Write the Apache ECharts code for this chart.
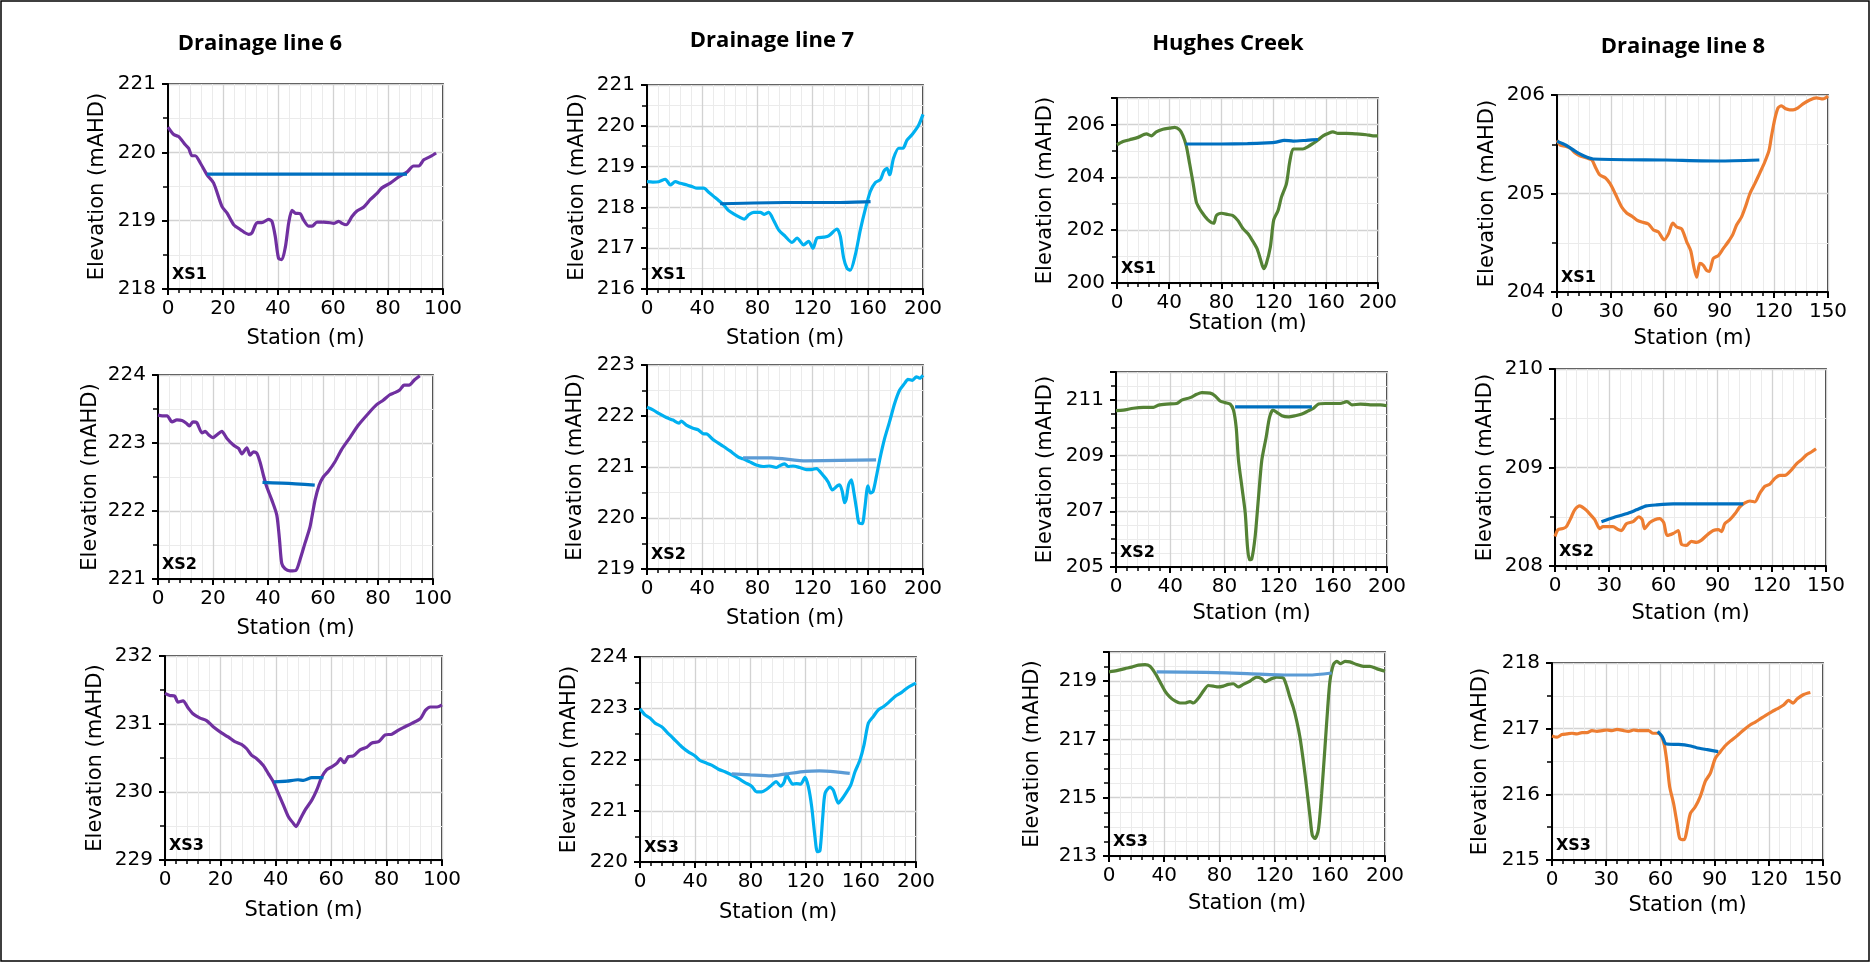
<!DOCTYPE html>
<html><head><meta charset="utf-8">
<script src="https://cdn.jsdelivr.net/npm/echarts@6/dist/echarts.min.js"></script>
<style>html,body{margin:0;padding:0;background:#fff}#c{width:1875px;height:965px}</style>
</head><body><div id="c"></div>
<script>
// ---------- titles / labels ----------
const columnTitles = ['Drainage line 6', 'Drainage line 7', 'Hughes Creek', 'Drainage line 8'];
const sectionLabels = ['XS1', 'XS2', 'XS3'];
const xAxisTitle = 'Station (m)';
const yAxisTitle = 'Elevation (mAHD)';

// ---------- ground profiles [station, elevation] ----------
const dl6_xs1_ground = [[0,220.37],[2.1,220.26],[3.9,220.23],[6.3,220.11],[7.5,220.06],[8.7,219.95],[9.9,219.95],[11.8,219.84],[14.2,219.67],[16.6,219.55],[19.6,219.21],[21.5,219.11],[23.9,218.94],[26.3,218.87],[29.3,218.80],[30.5,218.82],[32.4,218.97],[34.1,218.97],[36.6,219.02],[37.8,218.99],[39.0,218.77],[40.2,218.45],[41.4,218.43],[42.7,218.62],[43.9,218.97],[45.1,219.15],[46.3,219.11],[48.1,219.10],[49.3,219.01],[51.1,218.92],[52.4,218.92],[54.2,218.98],[56.6,218.98],[59.0,218.97],[60.2,218.96],[62.1,218.99],[63.3,218.96],[64.8,218.94],[66.9,219.06],[68.7,219.14],[71.2,219.20],[73.6,219.31],[76.0,219.40],[77.8,219.48],[80.8,219.55],[83.9,219.64],[86.9,219.71],[89.3,219.80],[91.2,219.80],[93.0,219.89],[95.5,219.94],[97.5,219.99]];
const dl6_xs1_water = [[14.2,219.68],[50,219.68],[86.9,219.68]];

const dl7_xs1_ground = [[0,218.63],[4.3,218.62],[8.5,218.63],[13.3,218.69],[16.9,218.55],[20.5,218.63],[24.2,218.59],[29.0,218.55],[32.6,218.51],[36.2,218.47],[41.1,218.47],[44.7,218.37],[48.3,218.27],[51.9,218.17],[55.6,218.06],[59.2,217.92],[62.8,217.84],[67.1,217.76],[70.5,217.71],[73.7,217.82],[77.3,217.88],[82.1,217.88],[85.0,217.83],[88.2,217.88],[91.8,217.68],[95.4,217.45],[100.2,217.29],[105.1,217.14],[108.7,217.25],[113.5,217.08],[117.1,217.17],[120.3,217.00],[123.2,217.25],[128.0,217.27],[131.6,217.30],[137.7,217.47],[140.1,217.29],[142.5,216.76],[144.9,216.51],[147.3,216.46],[151.0,216.84],[154.6,217.45],[158.2,217.96],[161.8,218.39],[165.5,218.61],[169.1,218.68],[171.5,218.88],[173.9,218.96],[175.8,218.80],[178.7,219.21],[182.4,219.45],[185.5,219.45],[188.4,219.65],[192.0,219.78],[196.9,220.02],[200,220.28]];
const dl7_xs1_water = [[53,218.09],[100,218.12],[140,218.12],[162,218.14]];

const hc_xs1_ground = [[0,205.23],[4.6,205.35],[9.7,205.42],[16.1,205.51],[22.5,205.64],[26.3,205.57],[30.1,205.72],[35.2,205.82],[40.4,205.86],[44.2,205.89],[48.0,205.79],[50.6,205.57],[53.1,205.19],[55.7,204.50],[58.2,203.81],[60.8,203.06],[63.3,202.81],[65.9,202.62],[69.7,202.39],[74.1,202.26],[76.1,202.55],[79.9,202.64],[85.0,202.59],[88.8,202.55],[92.7,202.36],[96.6,202.05],[100.4,201.86],[103.7,201.61],[107.3,201.30],[109.8,200.92],[112.4,200.54],[114.4,200.73],[117.5,201.36],[120.1,202.39],[123.4,202.74],[126.0,203.25],[129.8,203.75],[132.3,204.57],[134.9,205.07],[137.5,205.07],[142.5,205.07],[146.4,205.16],[150.2,205.28],[154.0,205.41],[157.9,205.57],[161.7,205.66],[165.5,205.72],[169.3,205.66],[175.7,205.66],[183.4,205.64],[191.1,205.61],[196.2,205.57],[200,205.57]];
const hc_xs1_water = [[52.6,205.26],[80,205.26],[100,205.27],[115,205.30],[122,205.33],[128,205.40],[135,205.37],[145,205.40],[154,205.43]];

const dl8_xs1_ground = [[0,205.54],[1.8,205.49],[4.6,205.48],[7.4,205.46],[10.1,205.41],[12.9,205.38],[16.6,205.36],[19.3,205.34],[21.2,205.27],[23.6,205.19],[26.7,205.16],[29.4,205.10],[32.2,205.00],[35.9,204.86],[38.7,204.80],[41.4,204.77],[44.2,204.73],[46.9,204.71],[50.6,204.69],[53.4,204.63],[56.1,204.61],[59.3,204.53],[61.7,204.59],[64.1,204.70],[66.3,204.66],[69.0,204.64],[71.8,204.51],[74.0,204.42],[75.8,204.25],[77.3,204.15],[79.1,204.29],[81.0,204.27],[82.8,204.22],[84.3,204.21],[86.5,204.34],[89.3,204.37],[92.0,204.44],[94.8,204.51],[97.2,204.58],[99.4,204.68],[102.1,204.76],[104.0,204.85],[106.8,205.00],[109.5,205.10],[112.3,205.21],[115.0,205.32],[117.4,205.44],[118.7,205.58],[120.6,205.76],[122.4,205.87],[124.2,205.89],[126.6,205.86],[128.8,205.85],[130.7,205.85],[133.4,205.87],[136.2,205.91],[139.9,205.95],[143.6,205.97],[147.2,205.96],[150,205.99]];
const dl8_xs1_water = [[0,205.53],[5,205.49],[10,205.43],[15,205.38],[20,205.35],[60,205.34],[90,205.33],[112,205.34]];

const dl6_xs2_ground = [[0,223.41],[1.5,223.40],[3.3,223.40],[5.1,223.31],[6.9,223.34],[8.7,223.33],[10.3,223.29],[11.4,223.25],[12.7,223.31],[14.1,223.30],[16.0,223.15],[17.2,223.17],[18.4,223.12],[20.0,223.08],[21.4,223.12],[23.2,223.17],[25.0,223.07],[27.4,222.97],[29.3,222.92],[30.5,222.84],[32.3,222.93],[33.5,222.82],[34.7,222.87],[35.9,222.85],[37.1,222.72],[38.3,222.53],[39.5,222.36],[41.4,222.16],[43.2,221.94],[44.2,221.57],[45.0,221.23],[46.2,221.15],[48.0,221.12],[50.2,221.13],[51.6,221.28],[53.4,221.52],[55.3,221.77],[57.1,222.16],[58.6,222.38],[60.1,222.50],[61.9,222.58],[64.3,222.72],[66.7,222.90],[69.8,223.08],[72.8,223.26],[76.4,223.43],[79.4,223.56],[81.9,223.63],[84.3,223.71],[86.1,223.74],[87.9,223.78],[89.5,223.85],[91.3,223.85],[93.3,223.93],[95.2,223.99]];
const dl6_xs2_water = [[38,222.42],[45,222.41],[50,222.40],[57,222.38]];

const dl7_xs2_ground = [[0,222.17],[4.3,222.12],[9.2,222.04],[14.0,221.97],[18.8,221.92],[23.2,221.86],[24.9,221.90],[28.5,221.82],[33.3,221.76],[37.0,221.73],[41.1,221.65],[43.0,221.65],[47.8,221.54],[53.9,221.43],[59.9,221.32],[65.9,221.20],[69.6,221.16],[74.4,221.10],[79.2,221.04],[84.1,221.01],[88.9,221.02],[93.7,220.99],[97.3,221.04],[99.8,221.06],[102.2,221.01],[105.8,221.02],[110.6,220.99],[115.5,220.95],[119.1,220.95],[122.7,220.97],[127.5,220.84],[131.2,220.71],[134.3,220.55],[137.9,220.63],[139.6,220.65],[141.5,220.52],[143.2,220.30],[144.4,220.37],[146.1,220.65],[148.1,220.75],[149.8,220.52],[151.7,220.20],[153.6,219.90],[156.0,219.89],[157.7,220.16],[160.1,220.63],[161.8,220.49],[163.8,220.52],[166.2,220.81],[168.6,221.14],[172.2,221.56],[175.8,221.89],[179.5,222.25],[183.1,222.51],[186.7,222.64],[189.1,222.72],[192.3,222.70],[195.2,222.77],[197.6,222.74],[200,222.80]];
const dl7_xs2_water = [[69.6,221.18],[90,221.18],[115,221.12],[140,221.13],[166,221.14]];

const hc_xs2_ground = [[0,210.61],[5.4,210.63],[12.8,210.70],[20.2,210.73],[27.6,210.73],[31.3,210.81],[37.4,210.85],[44.8,210.87],[48.5,210.99],[54.7,211.08],[59.6,211.20],[63.3,211.26],[69.5,211.24],[73.2,211.14],[76.8,210.96],[80.5,210.90],[84.2,210.85],[86.7,210.63],[88.7,210.01],[90.4,208.83],[92.9,207.88],[95.4,206.93],[97.0,205.74],[98.5,205.26],[100.2,205.29],[102.7,206.10],[105.2,207.52],[107.6,208.83],[110.8,209.66],[113.3,210.37],[115.8,210.63],[118.7,210.55],[122.4,210.43],[127.3,210.39],[132.3,210.43],[137.2,210.49],[142.1,210.61],[145.8,210.70],[149.5,210.85],[154.4,210.87],[159.4,210.87],[165.5,210.87],[170.4,210.94],[174.1,210.82],[180.3,210.85],[187.7,210.82],[195.1,210.82],[200,210.79]];
const hc_xs2_water = [[87.9,210.75],[115,210.75],[144.6,210.75]];

const dl8_xs2_ground = [[0,208.30],[1.7,208.37],[4.4,208.38],[6.3,208.40],[9.1,208.50],[10.9,208.57],[13.7,208.61],[16.4,208.58],[19.2,208.53],[22.0,208.47],[24.8,208.38],[26.6,208.40],[29.4,208.40],[32.1,208.40],[34.9,208.37],[36.8,208.36],[39.5,208.43],[43.2,208.45],[46.5,208.50],[48.3,208.47],[49.6,208.38],[52.4,208.44],[55.2,208.47],[58.0,208.48],[60.2,208.44],[62.1,208.31],[65.4,208.33],[68.2,208.36],[70.0,208.22],[72.8,208.21],[75.4,208.25],[78.3,208.24],[80.9,208.26],[83.9,208.31],[87.6,208.36],[90.3,208.37],[92.2,208.35],[94.0,208.43],[96.8,208.47],[99.6,208.53],[102.3,208.60],[105.1,208.64],[107.9,208.66],[110.6,208.65],[113.4,208.74],[116.2,208.81],[118.9,208.83],[121.7,208.89],[124.5,208.92],[127.3,208.92],[130.1,208.96],[133.8,209.04],[136.5,209.08],[139.3,209.13],[142.1,209.16],[144.5,209.19]];
const dl8_xs2_water = [[25.7,208.45],[32.1,208.49],[39.5,208.53],[45.1,208.57],[50.6,208.61],[56.2,208.62],[65.4,208.63],[76.5,208.63],[87.6,208.63],[95.0,208.63],[104.2,208.63]];

const dl6_xs3_ground = [[0,231.45],[1.7,231.42],[3.5,231.41],[4.7,231.32],[6.5,231.34],[8.3,231.24],[10.1,231.15],[12.5,231.09],[15.0,231.05],[17.4,230.96],[20.4,230.87],[22.8,230.81],[25.2,230.74],[27.6,230.70],[29.4,230.64],[31.3,230.54],[33.1,230.49],[35.5,230.39],[37.3,230.27],[39.1,230.15],[40.9,229.98],[42.7,229.81],[44.5,229.64],[46.3,229.54],[47.3,229.49],[48.7,229.59],[50.5,229.73],[53.0,229.88],[54.8,230.03],[56.6,230.22],[58.4,230.33],[60.2,230.37],[62.0,230.42],[63.4,230.49],[64.7,230.43],[66.2,230.52],[68.0,230.53],[70.4,230.62],[72.9,230.66],[74.7,230.72],[77.1,230.74],[79.5,230.84],[81.9,230.85],[84.3,230.91],[86.7,230.96],[89.1,231.01],[92.2,231.08],[94.0,231.20],[95.8,231.25],[98.2,231.25],[100,231.28]];
const dl6_xs3_water = [[39.3,230.15],[44,230.16],[48,230.18],[50,230.17],[53,230.21],[57.2,230.21]];

const dl7_xs3_ground = [[0,222.99],[3.6,222.87],[7.2,222.81],[10.9,222.71],[15.7,222.64],[19.3,222.54],[24.2,222.41],[30.2,222.25],[35.0,222.15],[39.9,222.07],[43.5,221.98],[47.1,221.94],[51.9,221.89],[56.8,221.81],[61.6,221.76],[66.4,221.70],[71.3,221.63],[76.1,221.55],[80.9,221.48],[84.5,221.37],[88.2,221.37],[91.8,221.42],[95.4,221.50],[98.6,221.57],[101.9,221.48],[104.3,221.55],[106.3,221.70],[108.2,221.61],[110.6,221.52],[113.5,221.53],[116.4,221.52],[119.6,221.65],[122.0,221.47],[124.4,221.08],[126.8,220.49],[128.5,220.20],[130.4,220.22],[132.4,220.87],[134.1,221.34],[137.7,221.46],[140.1,221.40],[143.7,221.15],[146.1,221.22],[149.8,221.37],[152.7,221.50],[155.8,221.76],[159.4,221.99],[162.3,222.28],[165.5,222.71],[169.1,222.84],[172.7,222.97],[176.3,223.03],[180.0,223.11],[184.8,223.23],[189.6,223.31],[194.4,223.41],[200,223.49]];
const dl7_xs3_water = [[66.4,221.72],[80,221.70],[95,221.68],[106,221.72],[120,221.77],[130,221.78],[142,221.76],[152,221.73]];

const hc_xs3_ground = [[0,219.32],[5.6,219.36],[11.6,219.43],[16.4,219.48],[21.3,219.55],[26.1,219.57],[29.7,219.51],[33.3,219.28],[36.9,218.98],[40.6,218.66],[44.2,218.45],[47.8,218.32],[51.4,218.25],[55.1,218.25],[58.7,218.30],[61.1,218.25],[64.7,218.41],[68.4,218.66],[72.0,218.85],[75.6,218.83],[79.2,218.80],[82.9,218.83],[86.5,218.89],[90.1,218.91],[93.7,218.80],[97.3,218.89],[102.2,219.00],[107.0,219.14],[110.6,219.09],[113.0,218.98],[116.7,219.06],[121.5,219.14],[126.3,219.11],[128.7,218.83],[131.2,218.43],[133.6,218.09],[136.0,217.64],[138.4,217.07],[140.8,216.27],[143.2,215.36],[145.7,214.34],[147.3,213.72],[149.3,213.60],[151.7,213.89],[154.1,215.14],[156.5,216.73],[158.5,218.09],[160.1,219.00],[162.6,219.57],[165.0,219.68],[167.9,219.60],[171.0,219.68],[174.6,219.66],[179.5,219.57],[184.3,219.51],[189.1,219.51],[193.9,219.43],[200,219.34]];
const hc_xs3_water = [[34.5,219.32],[70,219.30],[100,219.26],[130,219.21],[145,219.21],[161.4,219.28]];

const dl8_xs3_ground = [[0,216.89],[2.8,216.87],[5.5,216.91],[8.3,216.92],[11.1,216.93],[13.8,216.92],[16.6,216.94],[19.4,216.94],[22.1,216.97],[24.9,216.96],[27.7,216.97],[30.4,216.98],[33.2,216.97],[36.0,216.99],[39.7,216.97],[42.4,216.96],[45.2,216.98],[48.0,216.97],[50.7,216.97],[53.5,216.97],[55.9,216.93],[58.5,216.93],[60.5,216.89],[62.2,216.75],[63.7,216.47],[65.1,216.12],[67.3,215.86],[69.2,215.56],[70.7,215.33],[73.2,215.31],[74.7,215.46],[76.6,215.71],[79.3,215.81],[82.1,215.97],[84.9,216.20],[87.6,216.32],[90.4,216.55],[93.2,216.65],[95.9,216.74],[98.7,216.81],[102.4,216.89],[106.1,216.98],[109.8,217.06],[112.5,217.10],[115.3,217.15],[118.1,217.20],[121.8,217.26],[124.5,217.30],[128.2,217.36],[131.0,217.43],[133.4,217.39],[135.6,217.45],[139.3,217.52],[143.0,217.55]];
const dl8_xs3_water = [[58.5,216.96],[61,216.88],[63,216.77],[70,216.76],[76,216.74],[80,216.71],[86,216.68],[92,216.65]];

// ---------- axis ranges ----------
const xRange100 = [0, 100, 20];
const xRange200 = [0, 200, 40];
const xRange150 = [0, 150, 30];

// ---------- panel layout / styling ----------
const C_PURPLE = '#7030A0', C_CYAN = '#00B0F0', C_GREEN = '#548235', C_ORANGE = '#ED7D31';
const W_DARK = '#0070C0', W_LIGHT = '#5B9BD5';

const panels = [
  {g:[168,84,275,205],  x:xRange100, y:[218,221,1], ym:2, ground:dl6_xs1_ground, water:dl6_xs1_water, gc:C_PURPLE, wc:W_DARK, xs:0, xg:39, yg:60},
  {g:[647,85,276,204],  x:xRange200, y:[216,221,1], ym:2, ground:dl7_xs1_ground, water:dl7_xs1_water, gc:C_CYAN,   wc:W_DARK, xs:0, xg:39, yg:59},
  {g:[1117,98,261,185], x:xRange200, y:[200,207,2], ym:2, ground:hc_xs1_ground,  water:hc_xs1_water,  gc:C_GREEN,  wc:W_DARK, xs:0, xg:30, yg:61, hideMax:true},
  {g:[1557,95,271,197], x:xRange150, y:[204,206,1], ym:2, ground:dl8_xs1_ground, water:dl8_xs1_water, gc:C_ORANGE, wc:W_DARK, xs:0, xg:36, yg:59},
  {g:[158,375,275,204], x:xRange100, y:[221,224,1], ym:2, ground:dl6_xs2_ground, water:dl6_xs2_water, gc:C_PURPLE, wc:W_DARK, xs:1, xg:39, yg:57},
  {g:[647,365,276,204], x:xRange200, y:[219,223,1], ym:2, ground:dl7_xs2_ground, water:dl7_xs2_water, gc:C_CYAN,   wc:W_LIGHT, xs:1, xg:39, yg:61},
  {g:[1116,372,271,195],x:xRange200, y:[205,212,2], ym:4, ground:hc_xs2_ground,  water:hc_xs2_water,  gc:C_GREEN,  wc:W_DARK, xs:1, xg:36, yg:60, hideMax:true},
  {g:[1555,369,271,197],x:xRange150, y:[208,210,1], ym:2, ground:dl8_xs2_ground, water:dl8_xs2_water, gc:C_ORANGE, wc:W_DARK, xs:1, xg:37, yg:59},
  {g:[165,656,277,204], x:xRange100, y:[229,232,1], ym:2, ground:dl6_xs3_ground, water:dl6_xs3_water, gc:C_PURPLE, wc:W_DARK, xs:2, xg:40, yg:59},
  {g:[640,657,276,205], x:xRange200, y:[220,224,1], ym:2, ground:dl7_xs3_ground, water:dl7_xs3_water, gc:C_CYAN,   wc:W_LIGHT, xs:2, xg:40, yg:60},
  {g:[1109,652,276,204],x:xRange200, y:[213,220,2], ym:4, ground:hc_xs3_ground,  water:hc_xs3_water,  gc:C_GREEN,  wc:W_LIGHT, xs:2, xg:37, yg:66, hideMax:true},
  {g:[1552,663,271,197],x:xRange150, y:[215,218,1], ym:2, ground:dl8_xs3_ground, water:dl8_xs3_water, gc:C_ORANGE, wc:W_DARK, xs:2, xg:35, yg:61}
];
const titlePos = [[260,44],[772,41],[1228,44],[1683,47]];

const FONT = 'DejaVu Sans';
const grid = [], xAxis = [], yAxis = [], series = [], graphic = [];

panels.forEach((p, i) => {
  const [l, t, w, h] = p.g;
  grid.push({left:l, top:t, width:w, height:h, show:true, borderColor:'#000', borderWidth:1.5, backgroundColor:'transparent'});
  xAxis.push({
    gridIndex:i, type:'value', min:p.x[0], max:p.x[1], interval:p.x[2],
    name:xAxisTitle, nameLocation:'middle', nameGap:p.xg, nameMoveOverlap:false,
    nameTextStyle:{fontFamily:FONT, fontSize:21, color:'#000'},
    axisLine:{show:true, onZero:false, lineStyle:{color:'#000', width:2}},
    axisTick:{show:true, length:6, lineStyle:{color:'#000', width:2}},
    minorTick:{show:true, splitNumber:5, length:4, lineStyle:{color:'#000', width:1.5}},
    axisLabel:{fontFamily:FONT, fontSize:20, color:'#000', margin:10},
    splitLine:{show:true, lineStyle:{color:'#d2d2d2', width:1.3}},
    minorSplitLine:{show:true, lineStyle:{color:'#ebebeb', width:1}}
  });
  yAxis.push({
    gridIndex:i, type:'value', min:p.y[0], max:p.y[1], interval:p.y[2],
    name:yAxisTitle, nameLocation:'middle', nameGap:p.yg, nameMoveOverlap:false,
    nameTextStyle:{fontFamily:FONT, fontSize:21, color:'#000'},
    axisLine:{show:true, onZero:false, lineStyle:{color:'#000', width:2}},
    axisTick:{show:true, length:6, lineStyle:{color:'#000', width:2}},
    minorTick:{show:true, splitNumber:p.ym, length:5, lineStyle:{color:'#000', width:1.5}},
    axisLabel:{fontFamily:FONT, fontSize:20, color:'#000', margin:12, showMaxLabel: p.hideMax ? false : true},
    splitLine:{show:true, lineStyle:{color:'#d2d2d2', width:1.3}},
    minorSplitLine:{show:true, lineStyle:{color:'#ebebeb', width:1}}
  });
  series.push({
    type:'line', xAxisIndex:i, yAxisIndex:i, data:p.ground, showSymbol:false, symbol:'none',
    smooth:0.25, lineStyle:{color:p.gc, width:3.2}, z:3, animation:false, clip:true
  });
  series.push({
    type:'line', xAxisIndex:i, yAxisIndex:i, data:p.water, showSymbol:false, symbol:'none',
    smooth:0.2, lineStyle:{color:p.wc, width:3.2}, z:4, animation:false, clip:true
  });
  graphic.push({
    type:'text', left:l + 4, top:t + h - 22, z:10,
    style:{text:sectionLabels[p.xs], font:'bold 16px "DejaVu Sans"', fill:'#000'}
  });
});

columnTitles.forEach((s, k) => {
  graphic.push({
    type:'text', x:titlePos[k][0], y:titlePos[k][1], z:10,
    style:{text:s, font:'bold 22px "Open Sans"', fill:'#000', textAlign:'center', textVerticalAlign:'middle'}
  });
});
graphic.push({
  type:'rect', shape:{x:1, y:1, width:1868, height:960}, z:0,
  style:{fill:'none', stroke:'#000', lineWidth:1.5}
});

const chart = echarts.init(document.getElementById('c'), null, {renderer:'canvas'});
chart.setOption({animation:false, backgroundColor:'#fff', grid, xAxis, yAxis, series, graphic});
</script></body></html>
